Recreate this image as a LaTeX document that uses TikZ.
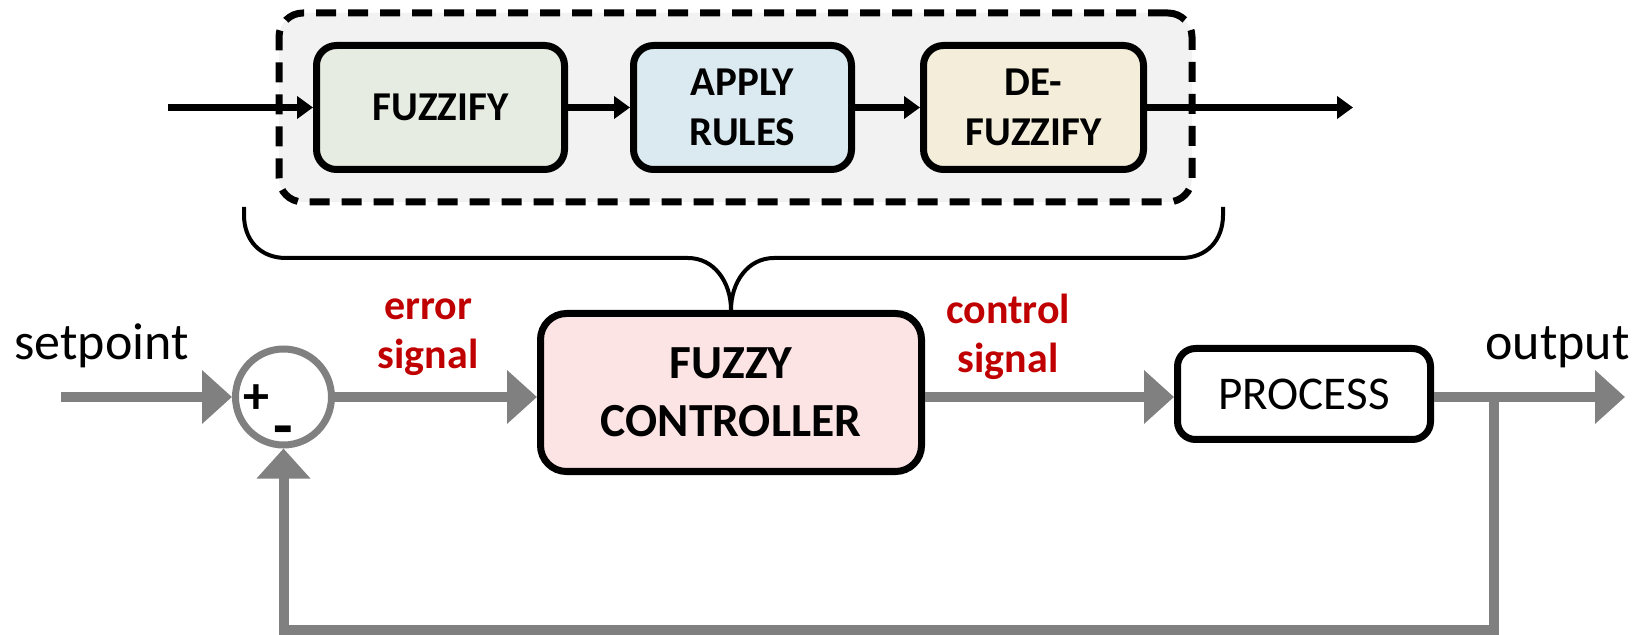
\documentclass[tikz,border=0pt]{standalone}
\usepackage{fontspec}
\setmainfont{Carlito}
\usetikzlibrary{arrows.meta,calc}

\definecolor{flowgray}{HTML}{808080}
\definecolor{framefill}{HTML}{F2F2F2}
\definecolor{fuzzfill}{HTML}{E6ECE1}
\definecolor{rulesfill}{HTML}{DBEAF1}
\definecolor{defuzzfill}{HTML}{F3EDDA}
\definecolor{ctrlfill}{HTML}{FCE4E5}
\definecolor{sigred}{HTML}{C00000}

\tikzset{
  stagebox/.style={draw=black, line width=3.5pt, rounded corners=10pt, align=center,
    inner sep=0pt, minimum height=62pt, font=\bfseries\fontsize{20.5}{25}\selectfont},
  framebox/.style={draw=black, fill=framefill, line width=3.5pt, rounded corners=12pt,
    dash pattern=on 10pt off 6pt, inner sep=0pt},
  ctrlbox/.style={draw=black, fill=ctrlfill, line width=3.5pt, rounded corners=13pt,
    align=center, inner sep=0pt, font=\bfseries\fontsize{23.75}{29}\selectfont},
  procbox/.style={draw=black, fill=white, line width=3.5pt, rounded corners=9pt,
    inner sep=0pt, font=\fontsize{23.5}{28}\selectfont},
  sumnode/.style={circle, draw=flowgray, fill=white, line width=3.5pt, inner sep=0pt},
  sign/.style={font=\bfseries\fontsize{26}{26}\selectfont, inner sep=0pt},
  plainlbl/.style={font=\fontsize{26}{31}\selectfont, inner sep=0pt},
  siglbl/.style={font=\bfseries\fontsize{21}{24.5}\selectfont, text=sigred, align=center, inner sep=0pt},
  gline/.style={draw=flowgray, line width=5pt},
  garrow/.style={gline, -{Triangle[length=15pt,width=26pt]}},
  barrow/.style={draw=black, line width=3.25pt, -{Triangle[length=8pt,width=11pt]}},
  bracestroke/.style={draw=black, line width=2pt}
}

\begin{document}
\begin{tikzpicture}[x=0.5pt, y=-0.5pt]
\useasboundingbox (0,0) rectangle (1647,635);

% fuzzy inference stages
\node[framebox, minimum width=456.5pt, minimum height=94.5pt] (frame) at (735.5,107.5) {};
\node[stagebox, fill=fuzzfill, minimum width=124pt] (fuzz) at (440.5,107.5) {FUZZIFY};
\node[stagebox, fill=rulesfill, minimum width=109pt] (rules) at (742.5,107.5) {APPLY\\RULES};
\node[stagebox, fill=defuzzfill, minimum width=110pt] (defuzz) at (1033.5,107.5) {DE-\\FUZZIFY};

\coordinate (fin) at (168,107.5);
\coordinate (fout) at (1353,107.5);
\draw[barrow] (fin) -- (fuzz.west);
\draw[barrow] (fuzz.east) -- (rules.west);
\draw[barrow] (rules.east) -- (defuzz.west);
\draw[barrow] (defuzz.east) -- (fout);

% main loop blocks
\node[ctrlbox, minimum width=190.5pt, minimum height=79pt] (ctrl) at (731,392.5) {FUZZY\\CONTROLLER};
\node[procbox, minimum width=126.5pt, minimum height=45.5pt] (proc) at (1304,394) {PROCESS};
\node[sumnode, minimum size=48pt] (sum) at (283.5,397) {};
\node[sign] (plus) at (256,399) {+};
\node[sign, font=\bfseries\fontsize{32}{32}\selectfont] (minus) at (283,437) {-};

% curly brace joining the stages to the controller
\draw[bracestroke]
  (244,207) -- (244,215) .. controls (244,240) and (260,258) .. (286,258) -- (688,258)
  .. controls (714,258) and (ctrl.north |- 0,282) .. (ctrl.north);
\draw[bracestroke]
  (1223,207) -- (1223,215) .. controls (1223,240) and (1207,258) .. (1181,258) -- (774,258)
  .. controls (748,258) and (ctrl.north |- 0,282) .. (ctrl.north);

% labels
\node[plainlbl, anchor=base] (sptext) at (101.5,360) {setpoint};
\node[plainlbl, anchor=base] (outtext) at (1557.5,360) {output};
\node[siglbl] (errtext) at (428,337) {error\\signal};
\node[siglbl] (ctltext) at (1008,337) {control\\signal};

% signal flow
\coordinate (spin) at (61,397);
\coordinate (tap) at (1494,397);
\coordinate (outend) at (1625,397);
\draw[garrow] (spin) -- (sum.west);
\draw[garrow] (sum.east) -- (ctrl.west |- sum.center);
\draw[garrow] (ctrl.east |- sum.center) -- (proc.west |- sum.center);
\draw[garrow] (proc.east |- sum.center) -- (outend);
\draw[garrow] (tap) -- (1494,630) -- (sum.south |- 0,630) -- (sum.south);
\end{tikzpicture}
\end{document}
